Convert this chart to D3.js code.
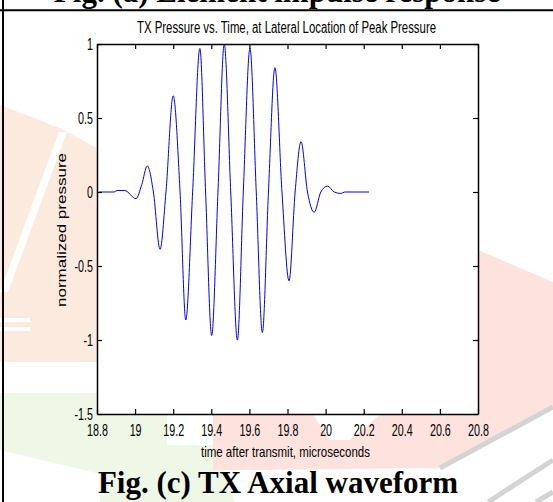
<!DOCTYPE html>
<html>
<head>
<meta charset="utf-8">
<script src="https://cdn.jsdelivr.net/npm/d3@7"></script>
<style>
    body { margin: 0; background: #fff; }
    svg { display: block; }
</style>
</head>
<body>
<div id="fig"></div>
<script>
// values (time in microseconds, normalized pressure)
var times = [18.81, 18.89, 18.905, 18.945, 19.005, 19.035, 19.064, 19.096, 19.131, 19.162,
    19.200, 19.236, 19.266, 19.302, 19.340, 19.370, 19.402, 19.435, 19.468, 19.502,
    19.537, 19.568, 19.603, 19.636, 19.668, 19.700, 19.734, 19.771, 19.808, 19.840,
    19.871, 19.905, 19.940, 19.975, 20.010, 20.045, 20.080, 20.100, 20.228];
var pressure = [0, 0, 0.01, 0.01, -0.045, 0.05, 0.176, 0, -0.387, 0,
    0.65, 0, -0.865, 0, 0.97, 0, -0.97, 0, 1.0, 0,
    -1.0, 0, 0.97, 0, -0.95, 0, 0.84, 0, -0.60, 0,
    0.34, 0, -0.137, 0, 0.04, 0, -0.01, 0, 0];

var xTicks = [18.8, 19, 19.2, 19.4, 19.6, 19.8, 20, 20.2, 20.4, 20.6, 20.8];
var xTickLabels = ["18.8", "19", "19.2", "19.4", "19.6", "19.8", "20", "20.2", "20.4", "20.6", "20.8"];
var yTicks = [-1.5, -1, -0.5, 0, 0.5, 1];
var yTickLabels = ["-1.5", "-1", "-0.5", "0", "0.5", "1"];

var chartTitle = "TX Pressure vs. Time, at Lateral Location of Peak Pressure";
var xTitle = "time after transmit, microseconds";
var yTitle = "normalized pressure";
var topCaption = "Fig. (a) Element impulse response";
var bottomCaption = "Fig. (c) TX Axial waveform";

var width = 553, height = 502;
var plot = {left: 97, right: 478, top: 44, bottom: 414};
var squeeze = 0.67;   // the original lettering is horizontally condensed

var svg = d3.select("#fig")
    .append("svg")
    .attr("width", width)
    .attr("height", height)
    .style("font-family", "Arial, 'Liberation Sans', sans-serif");

// faint watermark behind the figure
var bg = svg.append("g");
var shapes = [
    {fill: "#fdeadf", pts: [[0,105],[60,128],[97,148],[97,362],[0,362]]},
    {fill: "#ffffff", pts: [[0,292],[8,292],[67,132],[59,132]]},
    {fill: "#ffffff", pts: [[0,318],[30,318],[30,322],[0,322]]},
    {fill: "#ffffff", pts: [[0,327],[30,327],[30,331],[0,331]]},
    {fill: "#eff7e6", pts: [[0,393],[167,393],[167,445],[215,445],[235,502],[100,502],[100,474],[0,450]]},
    {fill: "#fde2de", pts: [[213,415],[478,415],[478,250],[553,282],[553,408],[440,468],[250,470],[213,470]]},
    {fill: "#ffffff", pts: [[313,415],[380,415],[350,440],[330,440]]}
];
bg.selectAll("polygon")
    .data(shapes)
    .enter().append("polygon")
    .attr("fill", function (d) { return d.fill; })
    .attr("points", function (d) { return d.pts.join(" "); });
[[553,407,440,468],[553,460,488,502],[553,492,536,502]].forEach(function (l) {
    bg.append("line")
        .attr("x1", l[0]).attr("y1", l[1]).attr("x2", l[2]).attr("y2", l[3])
        .attr("stroke", "#d4d4d4").attr("stroke-width", 5);
});

// table borders
svg.append("line").attr("x1", 0).attr("x2", width).attr("y1", 10.3).attr("y2", 10.3)
    .attr("stroke", "#000").attr("stroke-width", 2);
svg.append("line").attr("x1", 3).attr("x2", 3).attr("y1", 0).attr("y2", height)
    .attr("stroke", "#000").attr("stroke-width", 2);

// captions (the top one belongs to the figure above and is cut by the page edge)
svg.append("text")
    .attr("x", 277).attr("y", 2)
    .attr("text-anchor", "middle")
    .style("font-family", "'Liberation Serif', 'Times New Roman', serif")
    .style("font-weight", "bold").style("font-size", "31px")
    .text(topCaption);
svg.append("text")
    .attr("x", 278).attr("y", 493)
    .attr("text-anchor", "middle")
    .style("font-family", "'Liberation Serif', 'Times New Roman', serif")
    .style("font-weight", "bold").style("font-size", "31px")
    .text(bottomCaption);

var x = d3.scaleLinear().domain([18.8, 20.8]).range([plot.left, plot.right]);
var y = d3.scaleLinear().domain([-1.5, 1]).range([plot.bottom, plot.top]);

svg.append("rect")
    .attr("x", plot.left).attr("y", plot.top)
    .attr("width", plot.right - plot.left).attr("height", plot.bottom - plot.top)
    .attr("fill", "#fff");

var line = d3.line()
    .x(function (d, i) { return x(times[i]); })
    .y(function (d) { return y(d); })
    .curve(d3.curveMonotoneX);

svg.append("path")
    .datum(pressure)
    .attr("fill", "none")
    .attr("stroke", "#0000ff")
    .attr("stroke-width", 1)
    .attr("d", line);

// MATLAB style box with inward ticks on every side
function styleAxis(g) {
    g.select(".domain").attr("stroke", "#000").attr("stroke-width", 1.5);
    g.selectAll(".tick line").attr("stroke", "#000").attr("stroke-width", 1.2);
    g.selectAll(".tick text").attr("fill", "#000").style("font-size", "16px");
}

svg.append("g")
    .attr("transform", "translate(0," + plot.bottom + ")")
    .call(d3.axisBottom(x).tickValues(xTicks).tickSize(-5).tickSizeOuter(0).tickPadding(11)
        .tickFormat(function (d, i) { return xTickLabels[i]; }))
    .call(styleAxis)
    .selectAll(".tick text").attr("transform", "scale(" + squeeze + ",1)");

svg.append("g")
    .attr("transform", "translate(" + plot.left + ",0)")
    .call(d3.axisLeft(y).tickValues(yTicks).tickSize(-5).tickSizeOuter(0).tickPadding(4 / squeeze)
        .tickFormat(function (d, i) { return yTickLabels[i]; }))
    .call(styleAxis)
    .selectAll(".tick text").attr("transform", "scale(" + squeeze + ",1)");

svg.append("g")
    .attr("transform", "translate(0," + plot.top + ")")
    .call(d3.axisTop(x).tickValues(xTicks).tickSize(-5).tickSizeOuter(0).tickFormat(""))
    .call(styleAxis);

svg.append("g")
    .attr("transform", "translate(" + plot.right + ",0)")
    .call(d3.axisRight(y).tickValues(yTicks).tickSize(-5).tickSizeOuter(0).tickFormat(""))
    .call(styleAxis);

// titles, stretched to the widths seen in the picture
svg.append("text")
    .attr("x", 137).attr("y", 32.5)
    .attr("textLength", 299).attr("lengthAdjust", "spacingAndGlyphs")
    .style("font-size", "16px")
    .text(chartTitle);

svg.append("text")
    .attr("x", 201).attr("y", 457)
    .attr("textLength", 169).attr("lengthAdjust", "spacingAndGlyphs")
    .style("font-size", "15px")
    .text(xTitle);

svg.append("text")
    .attr("transform", "translate(66,307) rotate(-90)")
    .attr("textLength", 154).attr("lengthAdjust", "spacingAndGlyphs")
    .style("font-size", "13px")
    .text(yTitle);
</script>
</body>
</html>
